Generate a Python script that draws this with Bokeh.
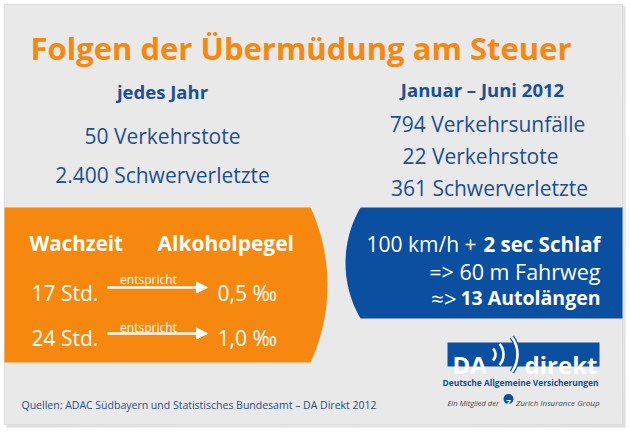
from bokeh.plotting import figure
from bokeh.models import Range1d, Arrow, NormalHead
from bokeh.core.properties import value
from bokeh.embed import file_html
from bokeh.resources import INLINE
import numpy as np

# ---- content ----
title = "Folgen der Übermüdung am Steuer"
left_head = "jedes Jahr"
left_lines = ["50 Verkehrstote", "2.400 Schwerverletzte"]
right_head = "Januar – Juni 2012"
right_lines = ["794 Verkehrsunfälle", "22 Verkehrstote", "361 Schwerverletzte"]
col_heads = ["Wachzeit", "Alkoholpegel"]
hours = ["17 Std.", "24 Std."]
promille = ["0,5 ‰", "1,0 ‰"]
arrow_label = "entspricht"
blue_normal = ["100 km/h +", "=> 60 m Fahrweg", "≈>"]
blue_bold = ["2 sec Schlaf", "", "13 Autolängen"]
source_text = "Quellen: ADAC Südbayern und Statistisches Bundesamt – DA Direkt 2012"
logo_words = ["DA", "direkt"]
logo_sub = "Deutsche Allgemeine Versicherungen"
logo_member = ["Ein Mitglied der", "Zurich Insurance Group"]

FONT = value("Open Sans")
ORANGE = "#f6870f"
BLUE = "#0b4fa1"
NAVY = "#1d4f93"

p = figure(width=630, height=432, output_backend="svg", toolbar_location=None,
           x_range=Range1d(0, 630), y_range=Range1d(432, 0),
           min_border=0, x_axis_location=None, y_axis_location=None)
p.grid.visible = False
p.outline_line_color = None
p.background_fill_color = "white"
p.border_fill_color = "white"

# card shadow + card with soft radial gradient
p.quad(left=6, right=625, top=6, bottom=427, fill_color="#bbbbbb", fill_alpha=0.5, line_color=None)
p.quad(left=4, right=622, top=4, bottom=424, fill_color="#e9e9e9", line_color=None)
n_rings = 30
for i in range(n_rings):
    s = 1 - i / n_rings
    p.ellipse(x=320, y=190, width=900 * s, height=620 * s, fill_color="white",
              fill_alpha=0.045, line_color=None)
p.quad(left=4, right=622, top=4, bottom=424, fill_color=None, line_color="#dddddd", line_width=1)

# orange panel with curved right edge
t = np.linspace(-1, 1, 60)
top_y, bot_y, mid_y = 207, 362, 284.5
half = (bot_y - top_y) / 2
sag = 17.0
r = (half ** 2 + sag ** 2) / (2 * sag)
cx = 327 - r
ys = mid_y + t * half
xs = cx + np.sqrt(r ** 2 - (ys - mid_y) ** 2)
p.patch(x=[4] + list(xs) + [4], y=[top_y] + list(ys) + [bot_y],
        fill_color=ORANGE, line_color=None)

# blue panel with curved left edge
btop, bbot = 207, 318
bmid = (btop + bbot) / 2
bhalf = (bbot - btop) / 2
bsag = 15.0
br = (bhalf ** 2 + bsag ** 2) / (2 * bsag)
bcx = 345 + br
bys = bmid + t * bhalf
bxs = bcx - np.sqrt(br ** 2 - (bys - bmid) ** 2)
p.patch(x=[622] + list(bxs) + [622], y=[btop] + list(bys) + [bbot],
        fill_color=BLUE, line_color=None)

def txt(x, y, s, size, color, style="normal", align="left", font=FONT):
    p.text(x=[x], y=[y], text=[s], text_font=font, text_font_size=size,
           text_color=color, text_font_style=style, text_align=align,
           text_baseline="alphabetic")

# title
txt(30, 47, title, "31px", ORANGE, "bold")

# upper stats
txt(162, 91, left_head, "18.5px", NAVY, "bold", "center")
for s, y in zip(left_lines, [135, 174]):
    txt(162, y, s, "21px", NAVY, "normal", "center")
txt(482, 89, right_head, "18.5px", NAVY, "bold", "center")
for s, x, y in zip(right_lines, [487, 480, 489], [123, 155, 187]):
    txt(x, y, s, "21px", NAVY, "normal", "center")

# orange panel text
txt(29, 242, col_heads[0], "20.5px", "white", "bold")
txt(157, 242, col_heads[1], "21px", "white", "bold")
for h, pm, yb, yl, ya in zip(hours, promille, [292, 337], [279, 327], [287, 333]):
    txt(31, yb, h, "21px", "white")
    txt(217, yb, pm, "21px", "white")
    txt(148, yl, arrow_label, "12px", "white", "normal", "center")
    p.add_layout(Arrow(end=NormalHead(size=11, fill_color="white", line_color="white"),
                       x_start=107, y_start=ya, x_end=207, y_end=ya,
                       line_color="white", line_width=2.5))

# blue panel text
for n, b, y, xn, sz, bsz in zip(blue_normal, blue_bold, [243, 271, 297], [476, 600, 456],
                                ["21px", "21.5px", "22px"], ["20.5px", "", "19.5px"]):
    txt(xn, y, n, sz, "white", "normal", "right")
    if b:
        txt(600, y, b, bsz, "white", "bold", "right")

# footer source
txt(21, 404, source_text, "10.5px", NAVY)

# logo
p.quad(left=447, right=599, top=342, bottom=366, fill_color=BLUE, line_color=None)
txt(452, 363.5, logo_words[0], "24px", "white", "bold")
wc = 487
p.arc(x=[wc], y=[354], radius=[30], start_angle=-0.62, end_angle=0.62,
      line_color=BLUE, line_width=5)
p.arc(x=[wc, wc, wc], y=[354, 354, 354], radius=[8, 16, 30],
      start_angle=[-0.85, -0.72, -0.62], end_angle=[0.85, 0.72, 0.62],
      line_color="white", line_width=2.6)
txt(597, 363.5, logo_words[1], "24px", "white", "bold", "right")
txt(598, 382, logo_sub, "8.4px", BLUE, "bold", "right")
txt(447, 402, logo_member[0], "7.5px", "#444444", "italic")
p.scatter(x=[508], y=[398.5], size=10, marker="circle", fill_color=BLUE, line_color=None)
txt(508, 401.5, "Z", "8px", "white", "bold", "center")
txt(599, 402, logo_member[1], "8px", "#444444", "italic", "right")

open("out.html", "w").write(file_html(p, INLINE))
